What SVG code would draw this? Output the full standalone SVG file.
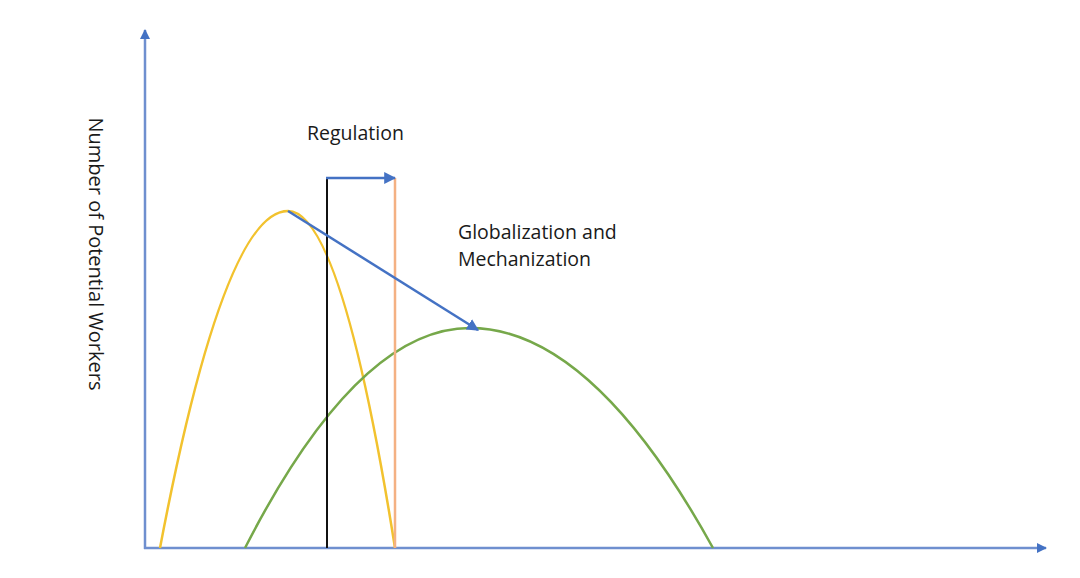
<svg xmlns="http://www.w3.org/2000/svg" width="1080" height="578" viewBox="0 0 1080 578">
<defs>
<marker id="ah" viewBox="0 0 10 10" refX="9" refY="5" markerWidth="10" markerHeight="10" markerUnits="userSpaceOnUse" orient="auto">
<path d="M0,0 L10,5 L0,10 z" fill="#4472C4"/>
</marker>
<marker id="ahb" viewBox="0 0 10 10" refX="9" refY="5" markerWidth="12" markerHeight="12" markerUnits="userSpaceOnUse" orient="auto">
<path d="M0,0 L10,5 L0,10 z" fill="#4472C4"/>
</marker>
<style>
.ax{stroke:#6F8FCF;stroke-width:2.5;fill:none}
.lbl{font-family:"Open Sans","Liberation Sans",sans-serif;font-size:19.5px;fill:#1a1a1a}
.curve{fill:none;stroke-width:2.5}
</style>
</defs>
<rect width="1080" height="578" fill="#fff"/>
<g id="axes">
<line class="ax" x1="145" y1="549" x2="145" y2="30" marker-end="url(#ah)"/>
<line class="ax" x1="144" y1="548" x2="1046" y2="548" marker-end="url(#ah)"/>
</g>
<g id="yellow-curve">
<path class="curve" stroke="#F2C22E" d="M160,548 Q224,211 288,211 Q341.5,211 395,548"/>
</g>
<g id="green-curve">
<path class="curve" stroke="#76A84A" d="M245,548 Q357.5,328 470,328 Q591.5,328 713,548"/>
</g>
<g id="regulation-lines">
<line x1="327" y1="548" x2="327" y2="178" stroke="#111" stroke-width="2"/>
<line x1="395" y1="548" x2="395" y2="178" stroke="#F4B183" stroke-width="2.5"/>
</g>
<g id="connectors">
<line x1="326" y1="178" x2="395" y2="178" stroke="#4472C4" stroke-width="2.5" marker-end="url(#ahb)"/>
<line x1="288" y1="211" x2="478" y2="330" stroke="#4472C4" stroke-width="2.5" marker-end="url(#ahb)"/>
</g>
<g id="labels">
<text class="lbl" x="307" y="140">Regulation</text>
<text class="lbl" x="458" y="239">Globalization and</text>
<text class="lbl" x="458" y="266">Mechanization</text>
<text class="lbl" style="font-size:20px" transform="translate(89,254) rotate(90)" text-anchor="middle">Number of Potential Workers</text>
</g>
</svg>
